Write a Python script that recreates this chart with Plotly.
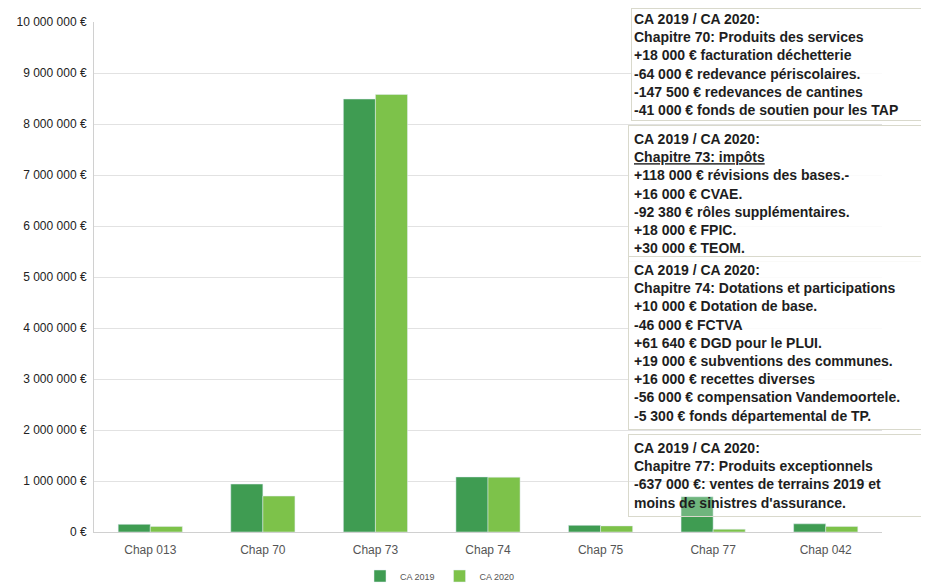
import plotly.graph_objects as go

categories = ["Chap 013", "Chap 70", "Chap 73", "Chap 74", "Chap 75", "Chap 77", "Chap 042"]
ca2019 = [150000, 940000, 8490000, 1080000, 130000, 692000, 160000]
ca2020 = [110000, 705000, 8580000, 1075000, 120000, 55000, 110000]
series_names = ["CA 2019", "CA 2020"]
tick_vals = [0, 1e6, 2e6, 3e6, 4e6, 5e6, 6e6, 7e6, 8e6, 9e6, 10e6]
tick_text = ["0 €", "1 000 000 €", "2 000 000 €", "3 000 000 €", "4 000 000 €",
             "5 000 000 €", "6 000 000 €", "7 000 000 €", "8 000 000 €",
             "9 000 000 €", "10 000 000 €"]

notes = [
    "CA 2019 / CA 2020:<br>Chapitre 70: Produits des services<br>+18 000 € facturation déchetterie<br>"
    "-64 000 € redevance périscolaires.<br>-147 500 € redevances de cantines<br>"
    "-41 000 € fonds de soutien pour les TAP",
    "CA 2019 / CA 2020:<br><u>Chapitre 73: impôts</u><br>+118 000 € révisions des bases.-<br>"
    "+16 000 € CVAE.<br>-92 380 € rôles supplémentaires.<br>+18 000 € FPIC.<br>+30 000 € TEOM.",
    "CA 2019 / CA 2020:<br>Chapitre 74: Dotations et participations<br>+10 000 € Dotation de base.<br>"
    "-46 000 € FCTVA<br>+61 640 € DGD pour le PLUI.<br>+19 000 € subventions des communes.<br>"
    "+16 000 € recettes diverses<br>-56 000 € compensation Vandemoortele.<br>"
    "-5 300 € fonds départemental de TP.",
    "CA 2019 / CA 2020:<br>Chapitre 77: Produits exceptionnels<br>-637 000 €: ventes de terrains 2019 et<br>"
    "moins de sinistres d'assurance.",
]

# page has an 8px body margin, so the figure is drawn 8px in from the window edge
OFF = 8
W, H = 929 - OFF, 584 - OFF
ml, mr, mt, mb = 94 - OFF, W - (882 - OFF), 22 - OFF, H - (532 - OFF)
pw, ph = W - ml - mr, H - mt - mb

fig = go.Figure()
fig.add_trace(go.Bar(x=categories, y=ca2019, name=series_names[0], marker_color="#3f9c52"))
fig.add_trace(go.Bar(x=categories, y=ca2020, name=series_names[1], marker_color="#7dc24a"))

box_left = 628 - OFF
box_tops = [8, 125, 256, 434]  # window pixel coordinates
box_pads = [2, 5, 5, 5]
box_bg = ["rgba(255,255,255,0.85)", "rgba(255,255,255,0.85)",
          "rgba(255,255,255,0.85)", "rgba(255,255,255,0.25)"]
for txt, top, pad, bg in zip(notes, box_tops, box_pads, box_bg):
    fig.add_annotation(
        text="<b>" + txt + "</b>", xref="paper", yref="paper",
        x=(box_left + 5 - pad - ml) / pw, y=(H - mb - (top - OFF)) / ph,
        xanchor="left", yanchor="top", align="left", valign="top",
        showarrow=False, width=W - (box_left + 5 - pad) - 2 * pad - 2,
        font=dict(family="Liberation Sans, Arial, sans-serif", size=14, color="#1e1e1e"),
        bgcolor=bg, bordercolor="#d9d9cc", borderwidth=1, borderpad=pad,
    )

fig.update_layout(
    width=W, height=H,
    margin=dict(l=ml, r=mr, t=mt, b=mb, autoexpand=False),
    paper_bgcolor="white", plot_bgcolor="white",
    barmode="group", bargap=0.43, bargroupgap=0,
    font=dict(family="Liberation Sans, Arial, sans-serif", color="#333"),
    legend=dict(orientation="h", x=(360 - OFF - ml) / pw, xanchor="left",
                y=-44 / ph, yanchor="middle", font=dict(size=9, color="#555"),
                itemwidth=30),
    showlegend=True,
)
fig.update_xaxes(showgrid=False, showline=True, linecolor="#d0d0d0",
                 tickfont=dict(size=12, color="#555"), ticks="", ticklabelstandoff=7)
fig.update_yaxes(range=[0, 10e6], tickvals=tick_vals, ticktext=tick_text,
                 showgrid=True, gridcolor="#e2e2e2", showline=True, linecolor="#d0d0d0",
                 zeroline=False, tickfont=dict(size=12, color="#222"), ticks="",
                 ticklabelstandoff=4)

fig.write_html("out.html")
